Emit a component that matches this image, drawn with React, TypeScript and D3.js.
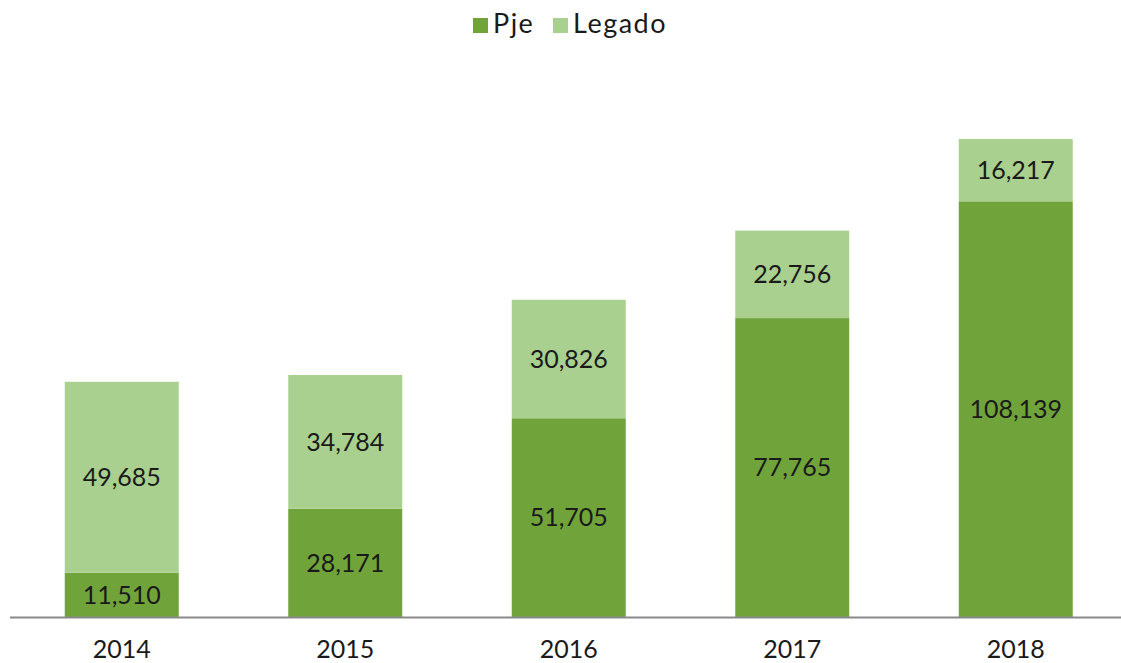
import React, { useEffect } from "react";
import * as d3 from "d3";

const years = ["2014", "2015", "2016", "2017", "2018"];
const pje = [11510, 28171, 51705, 77765, 108139];
const legado = [49685, 34784, 30826, 22756, 16217];
const seriesNames = ["Pje", "Legado"];
const colors = ["#70A43A", "#A9D08E"];

const W = 1121;
const H = 663;
const FONT = "'Lato', 'Liberation Sans', sans-serif";

export default function App() {
  useEffect(() => {
    document.body.style.margin = "0";
  }, []);

  const x = d3
    .scaleBand<string>()
    .domain(years)
    .range([10, 1127.5])
    .paddingInner(0.49)
    .paddingOuter(0.245);

  const totals = years.map((_, i) => pje[i] + legado[i]);
  const y = d3
    .scaleLinear()
    .domain([0, d3.max(totals) as number])
    .range([617, 139]);

  const rows = years.map((yr, i) => ({ year: yr, Pje: pje[i], Legado: legado[i] }));
  const stacked = d3.stack<any>().keys(seriesNames)(rows);
  const fmt = d3.format(",");

  return (
    <svg width={W} height={H} style={{ display: "block", background: "#fff" }} fontFamily={FONT}>
      {stacked.map((layer, si) => (
        <g key={layer.key}>
          {layer.map((d, i) => {
            const x0 = x(years[i]) as number;
            const top = y(d[1]);
            const bot = y(d[0]);
            return (
              <g key={i}>
                <rect x={x0} y={top} width={x.bandwidth()} height={bot - top} fill={colors[si]} />
                <text
                  x={x0 + x.bandwidth() / 2}
                  y={(top + bot) / 2}
                  dy="0.35em"
                  textAnchor="middle"
                  fontSize={25}
                  fill="#1a1a1a"
                >
                  {fmt(d[1] - d[0])}
                </text>
              </g>
            );
          })}
        </g>
      ))}
      <line x1={10} x2={W} y1={617.5} y2={617.5} stroke="#898989" strokeWidth={2} />
      {years.map((yr) => (
        <text
          key={yr}
          x={(x(yr) as number) + x.bandwidth() / 2}
          y={658}
          textAnchor="middle"
          fontSize={25}
          fill="#1a1a1a"
        >
          {yr}
        </text>
      ))}
      <g>
        <rect x={473} y={18} width={15} height={15} fill={colors[0]} />
        <text x={493} y={33} fontSize={27} letterSpacing={1.5} fill="#1a1a1a">
          {seriesNames[0]}
        </text>
        <rect x={553} y={18} width={15} height={15} fill={colors[1]} />
        <text x={573} y={33} fontSize={27} letterSpacing={1.5} fill="#1a1a1a">
          {seriesNames[1]}
        </text>
      </g>
    </svg>
  );
}
